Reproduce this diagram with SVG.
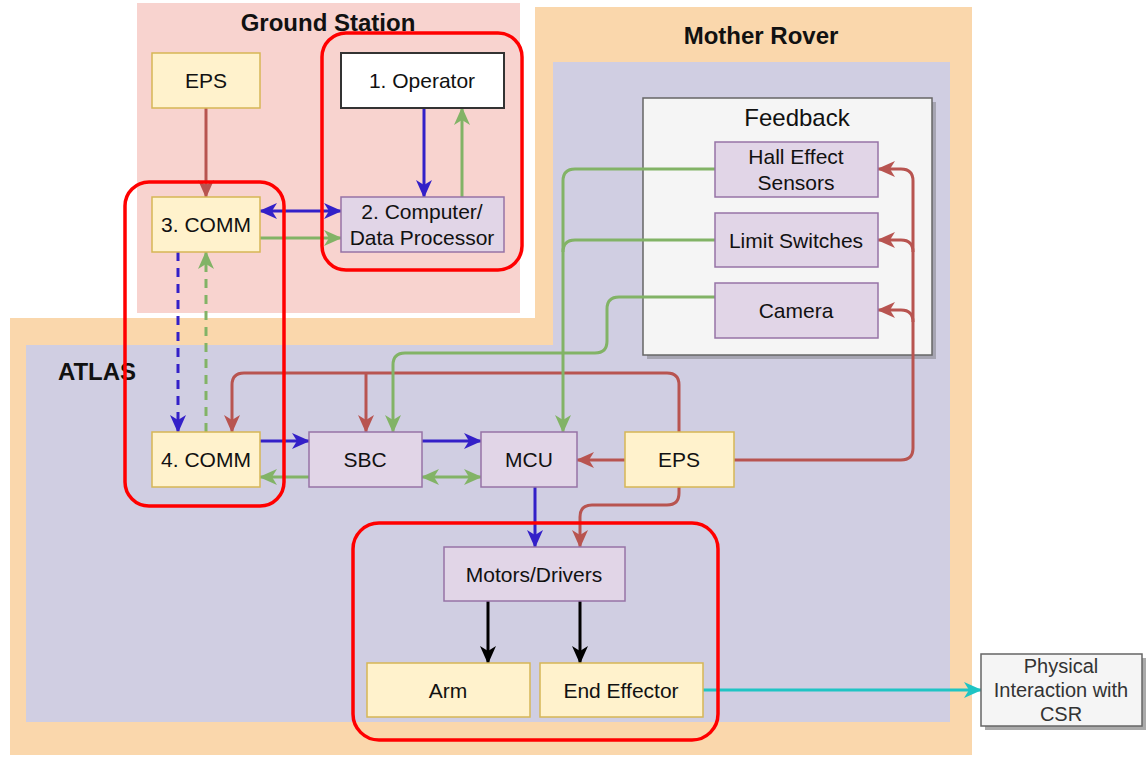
<svg xmlns="http://www.w3.org/2000/svg" width="1146" height="757" viewBox="0 0 1146 757">
  <style>
    text { font-family: "Liberation Sans", Arial, sans-serif; fill: #111; text-anchor: middle; }
    .title { font-size: 24px; font-weight: bold; }
    .lbl { font-size: 21px; }
    .yel { fill: #fff2cc; stroke: #d6b656; stroke-width: 1.5; }
    .pur { fill: #e1d5e7; stroke: #9673a6; stroke-width: 1.5; }
    .wire { fill: none; stroke-width: 3; }
    .red { stroke: #b85450; }
    .grn { stroke: #82b366; }
    .blu { stroke: #3320c8; }
    .blk { stroke: #000; }
    .cyn { stroke: #1fc4c4; }
    .dash { stroke-dasharray: 9 7; }
    .hl { fill: none; stroke: #ff0000; stroke-width: 3.5; }
  </style>
  <defs>
    <marker id="aRed" viewBox="0 0 18 18" refX="17" refY="9" markerWidth="18" markerHeight="18" markerUnits="userSpaceOnUse" orient="auto-start-reverse">
      <path d="M0,1 L18,9 L0,17 L5,9 z" fill="#b85450"/>
    </marker>
    <marker id="aGrn" viewBox="0 0 18 18" refX="17" refY="9" markerWidth="18" markerHeight="18" markerUnits="userSpaceOnUse" orient="auto-start-reverse">
      <path d="M0,1 L18,9 L0,17 L5,9 z" fill="#82b366"/>
    </marker>
    <marker id="aBlu" viewBox="0 0 18 18" refX="17" refY="9" markerWidth="18" markerHeight="18" markerUnits="userSpaceOnUse" orient="auto-start-reverse">
      <path d="M0,1 L18,9 L0,17 L5,9 z" fill="#3320c8"/>
    </marker>
    <marker id="aBlk" viewBox="0 0 18 18" refX="17" refY="9" markerWidth="18" markerHeight="18" markerUnits="userSpaceOnUse" orient="auto-start-reverse">
      <path d="M0,1 L18,9 L0,17 L5,9 z" fill="#000"/>
    </marker>
    <marker id="aCyn" viewBox="0 0 18 18" refX="17" refY="9" markerWidth="18" markerHeight="18" markerUnits="userSpaceOnUse" orient="auto-start-reverse">
      <path d="M0,1 L18,9 L0,17 L5,9 z" fill="#1fc4c4"/>
    </marker>
  </defs>

  <rect width="1146" height="757" fill="#ffffff"/>

  <!-- Containers -->
  <g id="ground-station">
    <rect x="137" y="3" width="383" height="310" fill="#f8d3cf"/>
    <text class="title" x="328" y="31">Ground Station</text>
  </g>
  <g id="mother-rover">
    <polygon points="535,7 972,7 972,755 10,755 10,318 535,318" fill="#fad7ac"/>
    <text class="title" x="761" y="44">Mother Rover</text>
  </g>
  <g id="atlas">
    <polygon points="553,62 950,62 950,722 26,722 26,345 553,345" fill="#d0cee2"/>
    <text class="title" x="97" y="380">ATLAS</text>
  </g>
  <g id="feedback">
    <rect x="647" y="102" width="289" height="257" fill="#8a8a92" opacity="0.6"/>
    <rect x="643" y="98" width="289" height="257" fill="#f5f5f5" stroke="#666" stroke-width="1.5"/>
    <text x="797" y="126" style="font-size:24px">Feedback</text>
  </g>

  <!-- Connectors -->
  <g id="connectors">
    <path class="wire red" d="M206,107 V197" marker-end="url(#aRed)"/>
    <path class="wire blu" d="M424,108 V197" marker-end="url(#aBlu)"/>
    <path class="wire grn" d="M462,197 V108" marker-end="url(#aGrn)"/>
    <path class="wire blu" d="M260,211 H341" marker-start="url(#aBlu)" marker-end="url(#aBlu)"/>
    <path class="wire grn" d="M260,238 H341" marker-end="url(#aGrn)"/>
    <path class="wire blu dash" d="M178,252 V432" marker-end="url(#aBlu)"/>
    <path class="wire grn dash" d="M206,432 V252" marker-end="url(#aGrn)"/>
    <path class="wire blu" d="M260,441 H309" marker-end="url(#aBlu)"/>
    <path class="wire grn" d="M309,477 H260" marker-end="url(#aGrn)"/>
    <path class="wire blu" d="M422,441 H481" marker-end="url(#aBlu)"/>
    <path class="wire grn" d="M422,477 H481" marker-start="url(#aGrn)" marker-end="url(#aGrn)"/>
    <path class="wire red" d="M625,460 H577" marker-end="url(#aRed)"/>
    <!-- power from ATLAS EPS up and over to COMM and SBC -->
    <path class="wire red" d="M679,432 V385 Q679,373 667,373 H244 Q232,373 232,385 V432" marker-end="url(#aRed)"/>
    <path class="wire red" d="M366,373 V432" marker-end="url(#aRed)"/>
    <!-- power from ATLAS EPS down to motors -->
    <path class="wire red" d="M679,487 V493 Q679,505 667,505 H592 Q580,505 580,517 V547" marker-end="url(#aRed)"/>
    <path class="wire blu" d="M535,487 V547" marker-end="url(#aBlu)"/>
    <!-- power from ATLAS EPS to sensors -->
    <path class="wire red" d="M734,460 H901 Q913,460 913,448 V181 Q913,169 901,169 H878" marker-end="url(#aRed)"/>
    <path class="wire red" d="M913,252 Q913,240 901,240 H878" marker-end="url(#aRed)"/>
    <path class="wire red" d="M913,322 Q913,310 901,310 H878" marker-end="url(#aRed)"/>
    <!-- sensor feedback -->
    <path class="wire grn" d="M715,169 H575 Q563,169 563,181 V432" marker-end="url(#aGrn)"/>
    <path class="wire grn" d="M715,240 H575 Q563,240 563,252"/>
    <path class="wire grn" d="M715,297 H619 Q607,297 607,309 V341 Q607,353 595,353 H405 Q393,353 393,365 V432" marker-end="url(#aGrn)"/>
    <path class="wire blk" d="M488,601 V663" marker-end="url(#aBlk)"/>
    <path class="wire blk" d="M580,601 V663" marker-end="url(#aBlk)"/>
    <path class="wire cyn" d="M703,690 H981" marker-end="url(#aCyn)"/>
  </g>

  <!-- Nodes -->
  <g id="gs-eps">
    <rect class="yel" x="152" y="53" width="108" height="55"/>
    <text class="lbl" x="206" y="88">EPS</text>
  </g>
  <g id="operator">
    <rect x="341" y="53" width="163" height="55" fill="#ffffff" stroke="#333" stroke-width="2"/>
    <text class="lbl" x="422" y="88">1. Operator</text>
  </g>
  <g id="gs-comm">
    <rect class="yel" x="152" y="197" width="108" height="55"/>
    <text class="lbl" x="206" y="232">3. COMM</text>
  </g>
  <g id="computer">
    <rect class="pur" x="341" y="197" width="163" height="55"/>
    <text class="lbl" x="422" y="219">2. Computer/</text>
    <text class="lbl" x="422" y="245">Data Processor</text>
  </g>
  <g id="hall-effect">
    <rect class="pur" x="715" y="142" width="163" height="55"/>
    <text class="lbl" x="796" y="164">Hall Effect</text>
    <text class="lbl" x="796" y="190">Sensors</text>
  </g>
  <g id="limit-switches">
    <rect class="pur" x="715" y="213" width="163" height="54"/>
    <text class="lbl" x="796" y="248">Limit Switches</text>
  </g>
  <g id="camera">
    <rect class="pur" x="715" y="283" width="163" height="55"/>
    <text class="lbl" x="796" y="318">Camera</text>
  </g>
  <g id="atlas-comm">
    <rect class="yel" x="152" y="432" width="108" height="55"/>
    <text class="lbl" x="206" y="467">4. COMM</text>
  </g>
  <g id="sbc">
    <rect class="pur" x="309" y="432" width="113" height="55"/>
    <text class="lbl" x="365" y="467">SBC</text>
  </g>
  <g id="mcu">
    <rect class="pur" x="481" y="432" width="96" height="55"/>
    <text class="lbl" x="529" y="467">MCU</text>
  </g>
  <g id="atlas-eps">
    <rect class="yel" x="625" y="432" width="109" height="55"/>
    <text class="lbl" x="679" y="467">EPS</text>
  </g>
  <g id="motors">
    <rect class="pur" x="444" y="547" width="181" height="54"/>
    <text class="lbl" x="534" y="582">Motors/Drivers</text>
  </g>
  <g id="arm">
    <rect class="yel" x="367" y="663" width="163" height="54"/>
    <text class="lbl" x="448" y="698">Arm</text>
  </g>
  <g id="end-effector">
    <rect class="yel" x="540" y="663" width="163" height="54"/>
    <text class="lbl" x="621" y="698">End Effector</text>
  </g>
  <g id="csr">
    <rect x="985" y="658" width="161" height="72" fill="#aaa"/>
    <rect x="981" y="654" width="161" height="72" fill="#f5f5f5" stroke="#666" stroke-width="1.5"/>
    <text x="1061" y="673" style="font-size:20px;fill:#333">Physical</text>
    <text x="1061" y="697" style="font-size:20px;fill:#333">Interaction with</text>
    <text x="1061" y="721" style="font-size:20px;fill:#333">CSR</text>
  </g>

  <!-- Highlight outlines -->
  <g id="highlights">
    <rect class="hl" x="322" y="33" width="200" height="237" rx="24"/>
    <rect class="hl" x="125" y="182" width="159" height="324" rx="24"/>
    <rect class="hl" x="353" y="523" width="365" height="217" rx="26"/>
  </g>
</svg>
